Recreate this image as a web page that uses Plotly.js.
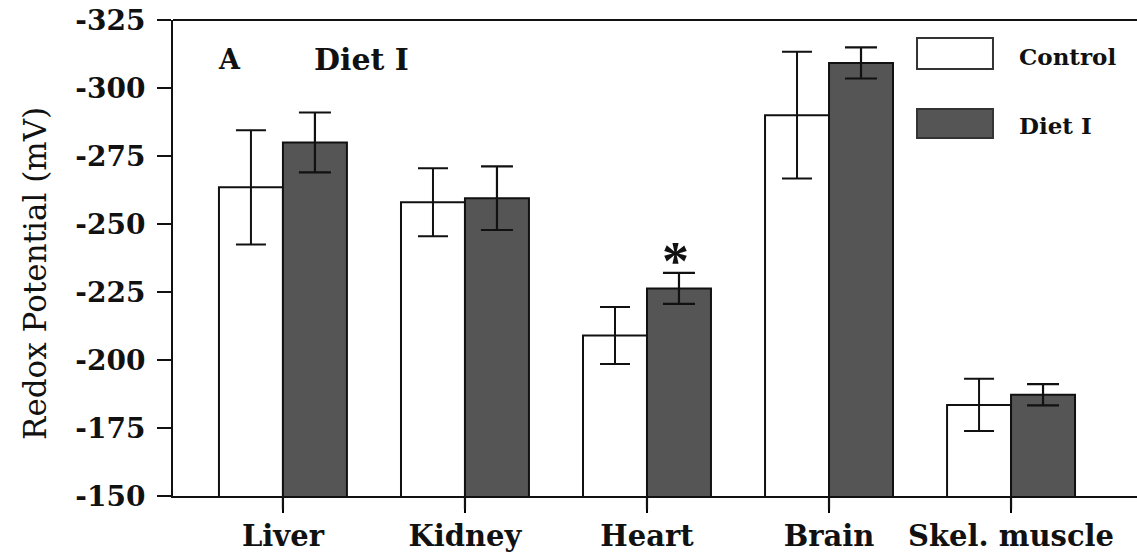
<!DOCTYPE html>
<html>
<head>
<meta charset="utf-8">
<script src="https://cdn.plot.ly/plotly-3.0.1.min.js"></script>
<style>html,body{margin:0;padding:0;background:#fff;}</style>
</head>
<body>
<div id="chart" style="width:1137px;height:553px;"></div>
<script>
// ---- data ----
const categories = ['Liver', 'Kidney', 'Heart', 'Brain', 'Skel. muscle'];
const seriesNames = ['Control', 'Diet I'];
const controlValues = [-263.5, -258, -209, -290, -183.5];
const controlErrors = [21, 12.5, 10.5, 23.3, 9.6];
const dietValues = [-280, -259.5, -226.3, -309.2, -187.2];
const dietErrors = [11, 11.7, 5.7, 5.7, 3.9];
const yTickValues = [-325, -300, -275, -250, -225, -200, -175, -150];
const yTickLabels = ['-325', '-300', '-275', '-250', '-225', '-200', '-175', '-150'];
const yTitle = 'Redox Potential (mV)';
const panelLabel = 'A';
const panelTitle = 'Diet I';
const significanceMark = '*';
const significantCategory = 'Heart';

const serif = 'DejaVu Serif';
const ink = '#111111';
const xRange = [-0.604, 4.692];
const yRange = [-150, -325];

const traces = [
  {
    type: 'bar', name: seriesNames[0], x: categories, y: controlValues,
    marker: {color: '#ffffff', line: {color: ink, width: 2}},
    error_y: {type: 'data', array: controlErrors, visible: true, color: ink, thickness: 2, width: 15}
  },
  {
    type: 'bar', name: seriesNames[1], x: categories, y: dietValues,
    marker: {color: '#555555', line: {color: ink, width: 2}},
    error_y: {type: 'data', array: dietErrors, visible: true, color: ink, thickness: 2.2, width: 16}
  }
];

// legend built from shapes + annotations (custom large swatches), plus the top frame line
const shapes = [
  {type: 'rect', xref: 'paper', yref: 'paper', x0: 0.7718, x1: 0.8506, y0: 0.8971, y1: 0.9622,
   fillcolor: '#ffffff', line: {color: '#333', width: 2}},
  {type: 'rect', xref: 'paper', yref: 'paper', x0: 0.7718, x1: 0.8506, y0: 0.7521, y1: 0.8130,
   fillcolor: '#555555', line: {color: '#333', width: 2}},
  {type: 'line', xref: 'paper', yref: 'paper', x0: 0, x1: 1, y0: 1, y1: 1, layer: 'above',
   line: {color: ink, width: 2}}
];

const annotations = [
  {xref: 'paper', yref: 'paper', x: 0.059, y: 0.916, text: panelLabel, showarrow: false,
   xanchor: 'center', yanchor: 'middle', font: {family: serif, size: 27, weight: 'bold', color: ink}},
  {xref: 'paper', yref: 'paper', x: 0.196, y: 0.916, text: panelTitle, showarrow: false,
   xanchor: 'center', yanchor: 'middle', font: {family: serif, size: 30, weight: 'bold', color: ink}},
  {xref: 'paper', yref: 'paper', x: 0.8755, y: 0.924, text: seriesNames[0], showarrow: false,
   xanchor: 'left', yanchor: 'middle', font: {family: serif, size: 23, weight: 'bold', color: ink}},
  {xref: 'paper', yref: 'paper', x: 0.8755, y: 0.779, text: seriesNames[1], showarrow: false,
   xanchor: 'left', yanchor: 'middle', font: {family: serif, size: 23, weight: 'bold', color: ink}},
  {xref: 'x', yref: 'y', x: significantCategory, y: -240, xshift: 29, yshift: -10, text: significanceMark, showarrow: false,
   xanchor: 'center', yanchor: 'middle', font: {family: 'Liberation Serif', size: 54, weight: 'bold', color: ink}},
  {xref: 'paper', yref: 'paper', x: -0.1432, y: 0.4685, text: yTitle, showarrow: false, textangle: -90,
   xanchor: 'center', yanchor: 'middle', font: {family: serif, size: 31, color: ink}}
];
// category tick marks below the x axis, drawn as arrow-only annotations at each category
categories.forEach(function (c) {
  annotations.push({xref: 'x', yref: 'y', x: c, y: yRange[0], text: ' ', showarrow: true,
    arrowhead: 0, arrowwidth: 2.2, arrowcolor: ink, ax: 0, ay: 15, standoff: 0, startstandoff: 0,
    font: {size: 1}});
});

const layout = {
  width: 1137, height: 553,
  margin: {l: 173, r: 0, t: 20, b: 57},
  paper_bgcolor: '#ffffff', plot_bgcolor: '#ffffff',
  showlegend: false,
  barmode: 'group', bargap: 0.297, bargroupgap: 0,
  xaxis: {
    type: 'category', range: xRange,
    showline: true, linewidth: 2, linecolor: ink, mirror: false,
    ticks: 'outside', ticklen: 15, tickwidth: 2.5, tickcolor: '#000000',
    ticklabelstandoff: -2,
    showgrid: false, zeroline: false,
    tickfont: {family: serif, size: 29, weight: 'bold', color: ink}
  },
  yaxis: {
    range: yRange,
    tickvals: yTickValues, ticktext: yTickLabels,
    showline: true, linewidth: 2, linecolor: ink, mirror: false,
    ticks: 'outside', ticklen: 14, tickwidth: 2, tickcolor: ink,
    ticklabelstandoff: 6,
    showgrid: false, zeroline: false,
    tickfont: {family: serif, size: 28, weight: 'bold', color: ink}
  },
  shapes: shapes,
  annotations: annotations
};

Plotly.newPlot('chart', traces, layout, {displayModeBar: false, staticPlot: true});
</script>
</body>
</html>
